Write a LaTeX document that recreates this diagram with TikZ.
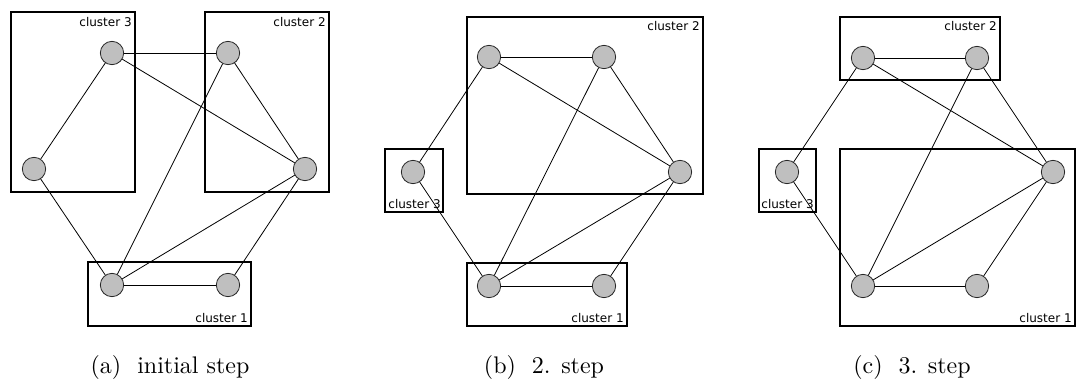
\documentclass[tikz,border=0pt]{standalone}
\usepackage{fontspec}
\newfontfamily\clfont{DejaVu Sans}
\newfontfamily\capfont{lmroman10-regular.otf}
\begin{document}
\begin{tikzpicture}[x=0.625pt,y=-0.625pt,
  vert/.style={circle,draw=black!85,fill=black!25,line width=0.5pt,minimum size=14.6pt,inner sep=0pt},
  clbox/.style={draw,line width=1.8pt},
  cllab/.style={font=\clfont\fontsize{7.5}{8}\selectfont,inner sep=0pt},
  edge/.style={line width=0.5pt},
  captext/.style={font=\capfont\fontsize{15}{18}\selectfont,inner sep=0pt,anchor=base}]
\useasboundingbox (0,0) rectangle (1076,381);

% ---------- panel (a)
\draw[clbox] (11,12) rectangle (135,192);
\draw[clbox] (205,12) rectangle (329,192);
\draw[clbox] (88,262) rectangle (251,326);
\node[cllab,anchor=north east] (a3) at (132,17) {cluster 3};
\node[cllab,anchor=north east] (a2) at (326,17) {cluster 2};
\node[cllab,anchor=south east] (a1) at (248,323) {cluster 1};
\node[vert] (aA) at (112,53) {};
\node[vert] (aB) at (228,53) {};
\node[vert] (aC) at (34,169) {};
\node[vert] (aD) at (305,169) {};
\node[vert] (aE) at (112,285) {};
\node[vert] (aF) at (228,285) {};
\foreach \u/\v in {A/B,A/C,A/D,B/D,B/E,C/E,D/E,D/F,E/F}
  \draw[edge] (a\u) -- (a\v);
\node[captext] (capa) at (170,373) {(a)\ \ initial step};

% ---------- panel (b)
\draw[clbox] (467,17) rectangle (703,194);
\draw[clbox] (385,149) rectangle (443,212);
\draw[clbox] (467,263) rectangle (627,326);
\node[cllab,anchor=north east] (b2) at (700,21) {cluster 2};
\node[cllab,anchor=south east] (b3) at (441,209) {cluster 3};
\node[cllab,anchor=south east] (b1) at (624,323) {cluster 1};
\node[vert] (bA) at (489,57) {};
\node[vert] (bB) at (604,57) {};
\node[vert] (bC) at (413,172) {};
\node[vert] (bD) at (680,172) {};
\node[vert] (bE) at (489,286) {};
\node[vert] (bF) at (604,286) {};
\foreach \u/\v in {A/B,A/C,A/D,B/D,B/E,C/E,D/E,D/F,E/F}
  \draw[edge] (b\u) -- (b\v);
\node[captext] (capb) at (544,373) {(b)\ \ 2. step};

% ---------- panel (c)
\draw[clbox] (840,17) rectangle (1000,80);
\draw[clbox] (759,149) rectangle (816,212);
\draw[clbox] (840,149) rectangle (1075,326);
\node[cllab,anchor=north east] (c2) at (997,21) {cluster 2};
\node[cllab,anchor=south east] (c3) at (814,209) {cluster 3};
\node[cllab,anchor=south east] (c1) at (1072,323) {cluster 1};
\node[vert] (cA) at (863,58) {};
\node[vert] (cB) at (977,58) {};
\node[vert] (cC) at (787,172) {};
\node[vert] (cD) at (1053,172) {};
\node[vert] (cE) at (863,286) {};
\node[vert] (cF) at (977,286) {};
\foreach \u/\v in {A/B,A/C,A/D,B/D,B/E,C/E,D/E,D/F,E/F}
  \draw[edge] (c\u) -- (c\v);
\node[captext] (capc) at (912,373) {(c)\ \ 3. step};
\end{tikzpicture}
\end{document}
